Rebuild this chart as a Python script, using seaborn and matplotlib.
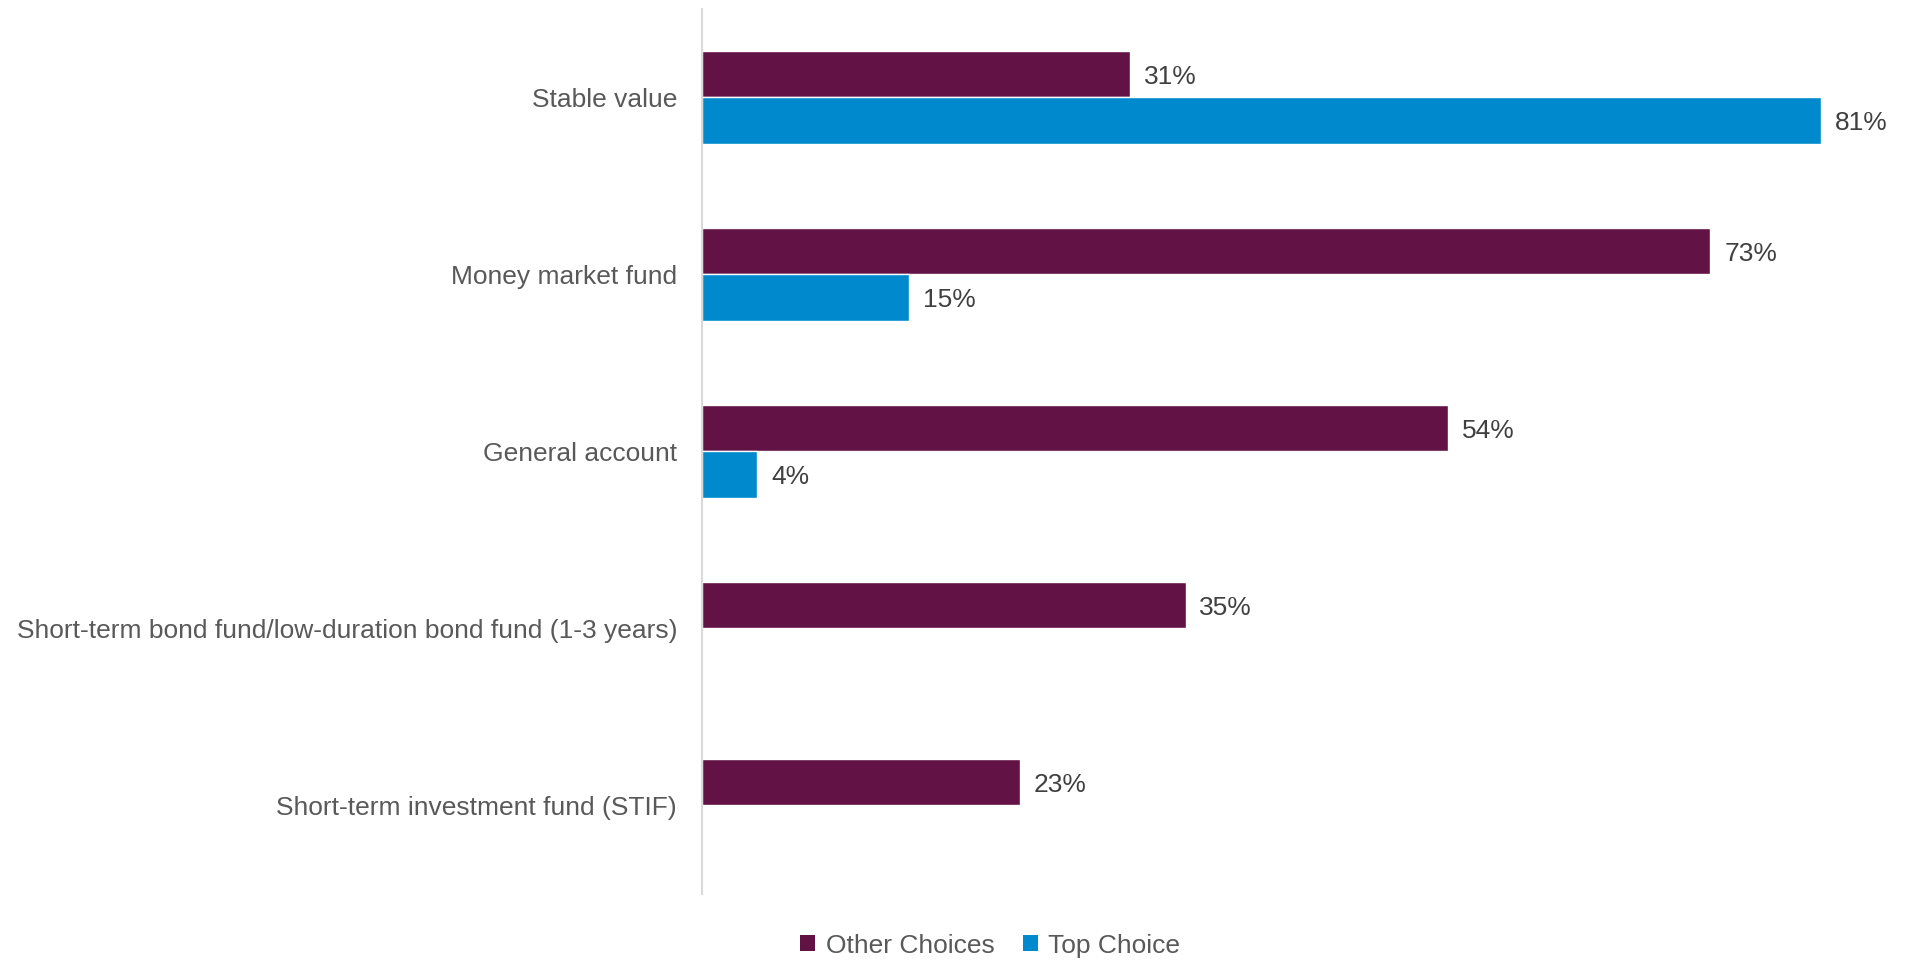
import matplotlib
matplotlib.use("Agg")
import matplotlib.pyplot as plt
import seaborn as sns
import pandas as pd
import numpy as np
from matplotlib.patches import Patch

categories = ["Stable value", "Money market fund", "General account",
              "Short-term bond fund/low-duration bond fund (1-3 years)",
              "Short-term investment fund (STIF)"]
other_choices = [31, 73, 54, 35, 23]
top_choice = [81, 15, 4, np.nan, np.nan]
series = ["Other Choices", "Top Choice"]
colors = ["#621244", "#0089CC"]

df = pd.DataFrame({
    "category": categories * 2,
    "value": other_choices + top_choice,
    "series": [series[0]] * len(categories) + [series[1]] * len(categories),
})

sns.set_theme(style="white")
plt.rcParams["font.family"] = ["Liberation Sans", "DejaVu Sans"]

fig = plt.figure(figsize=(19.12, 9.63), dpi=100)
ax = fig.add_axes([0.3672, 0.0717, 0.6213, 0.919])

sns.barplot(data=df, y="category", x="value", hue="series", order=categories,
            hue_order=series, palette=colors, orient="h", width=0.53,
            dodge=True, ax=ax, legend=False, saturation=1, errorbar=None)

for cont in ax.containers:
    labels = ["" if (v is None or np.isnan(v)) else f"{v:.0f}%" for v in cont.datavalues]
    texts = ax.bar_label(cont, labels=labels, padding=10, fontsize=19, color="#404040")
    for t in texts:
        t.set_va("center_baseline")

ax.set_xlim(0, 86)
ax.set_ylim(4.5, -0.5)
ax.set_xlabel("")
ax.set_ylabel("")
ax.set_xticks([])
ax.tick_params(axis="y", length=0, pad=18, labelsize=19, labelcolor="#595959")
for s in ["top", "right", "bottom"]:
    ax.spines[s].set_visible(False)
ax.spines["left"].set_color("#D9D9D9")
ax.spines["left"].set_linewidth(1.5)

handles = [Patch(facecolor=c, edgecolor="none") for c in colors]
leg = fig.legend(handles, series, loc="center", bbox_to_anchor=(0.518, 0.018),
                 ncol=2, frameon=False, fontsize=19, handlelength=0.55,
                 handleheight=0.55, handletextpad=0.4, columnspacing=1.1)
for t in leg.get_texts():
    t.set_color("#595959")

fig.savefig("out.png", dpi=100)
